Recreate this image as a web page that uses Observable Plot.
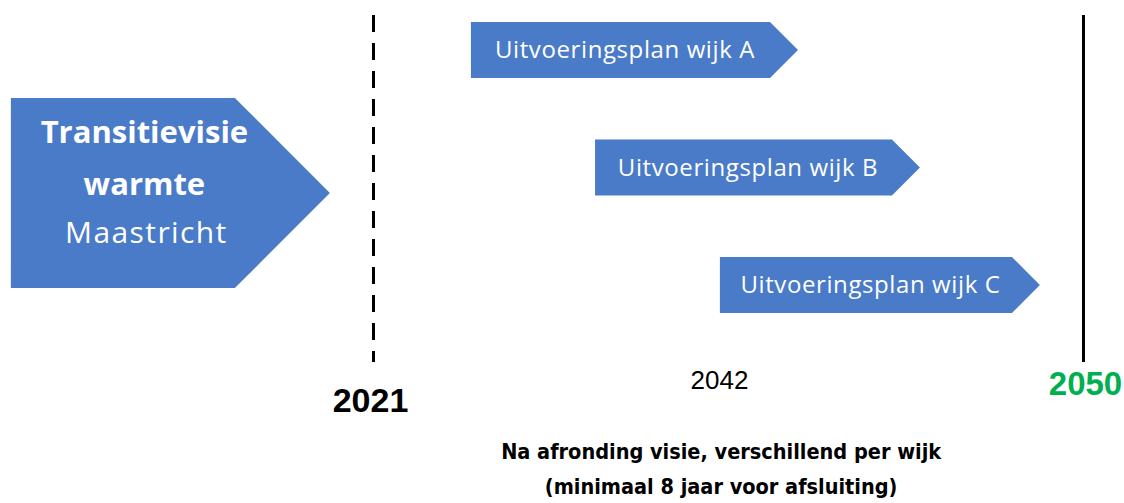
<!DOCTYPE html>
<html>
<head>
<meta charset="utf-8">
<script src="https://cdn.jsdelivr.net/npm/d3@7"></script>
<script src="https://cdn.jsdelivr.net/npm/@observablehq/plot@0.6"></script>
<style>
  html, body { margin: 0; padding: 0; background: #fff; }
  #chart svg { display: block; }
  .plan-label text { letter-spacing: 0.6px; }
  .visie-plain text { letter-spacing: 1.4px; }
</style>
</head>
<body>
<div id="chart"></div>
<script>
// ---- Data ----
const planNames  = ["Uitvoeringsplan wijk A", "Uitvoeringsplan wijk B", "Uitvoeringsplan wijk C"];
const planStart  = [2025.0, 2030.07, 2035.17];
const planEnd    = [2038.36, 2043.34, 2048.24];
const planRow    = [1, 2, 3];

const visieBoldLines = ["Transitievisie", "warmte"];
const visiePlainLines = ["Maastricht"];
const visieStart = 2006.21;
const visieEnd   = 2019.24;

const startYear  = 2021;
const endYear    = 2050;
const midLabel   = "2042";
const captionLines = ["Na afronding visie, verschillend per wijk", "(minimaal 8 jaar voor afsluiting)"];

// ---- Layout ----
const W = 1124, H = 503;
const xDomain = [2005.765, 2051.675];
const yDomain = [0.5745, 4.8553];
const pxPerYear = W / (xDomain[1] - xDomain[0]);
const pxPerRow = H / (yDomain[1] - yDomain[0]);
const blue = "#4a7bc8";

const planH = 0.4766;          // arrow height in rows
const visieRow = 2.217, visieH = 1.617;

function arrowPoints(name, x0, x1, cy, h) {
  const tip = (h / 2) * pxPerRow / pxPerYear; // 45° point
  const xb = x1 - tip;
  return [
    {name, x: x0, y1: cy + h / 2, y2: cy - h / 2},
    {name, x: xb, y1: cy + h / 2, y2: cy - h / 2},
    {name, x: x1, y1: cy, y2: cy}
  ];
}

const arrows = [
  ...arrowPoints("visie", visieStart, visieEnd, visieRow, visieH),
  ...planNames.flatMap((n, i) => arrowPoints(n, planStart[i], planEnd[i], planRow[i], planH))
];

const planTip = (planH / 2) * pxPerRow / pxPerYear;
const planLabels = planNames.map((n, i) => ({name: n, x: (planStart[i] + planEnd[i] - planTip) / 2, y: planRow[i]}));
const visieTip = (visieH / 2) * pxPerRow / pxPerYear;
const visieX = (visieStart + visieEnd - visieTip) / 2;

const chart = Plot.plot({
  width: W,
  height: H,
  margin: 0,
  x: {domain: xDomain, range: [0, W], axis: null},
  y: {domain: yDomain, range: [0, H], axis: null},
  style: {background: "#fff"},
  marks: [
    Plot.areaY(arrows, {x: "x", y1: "y1", y2: "y2", z: "name", fill: blue, curve: "linear"}),
    Plot.text(planLabels, {x: "x", y: "y", text: "name", dx: 4, fill: "#fff", className: "plan-label",
      fontFamily: "Open Sans", fontSize: 24, textAnchor: "middle"}),
    Plot.text([visieBoldLines[0]], {x: () => visieX, y: () => visieRow, text: d => d,
      dx: 21, dy: -60, fill: "#fff", fontFamily: "Open Sans", fontWeight: "bold", fontSize: 31}),
    Plot.text([visieBoldLines[1]], {x: () => visieX, y: () => visieRow, text: d => d,
      dx: 21, dy: -8, fill: "#fff", fontFamily: "Open Sans", fontWeight: "bold", fontSize: 31}),
    Plot.text(visiePlainLines, {x: () => visieX, y: () => visieRow, text: d => d, className: "visie-plain",
      dx: 23, dy: 40, fill: "#fff", fontFamily: "Open Sans", fontSize: 30}),
    Plot.ruleX([startYear], {y1: 0.702, y2: 3.655, stroke: "#000", strokeWidth: 3, strokeDasharray: "17,11"}),
    Plot.ruleX([endYear], {y1: 0.702, y2: 3.655, stroke: "#000", strokeWidth: 3}),
    Plot.text([String(startYear)], {x: () => startYear, y: () => 3.987, text: d => d, dx: -3,
      fontFamily: "Liberation Sans", fontWeight: "bold", fontSize: 34, fill: "#000"}),
    Plot.text([midLabel], {x: () => 2035.13, y: () => 3.809, text: d => d,
      fontFamily: "Liberation Sans", fontSize: 26, fill: "#000"}),
    Plot.text([String(endYear)], {x: () => endYear, y: () => 3.843, text: d => d, dx: 2,
      fontFamily: "Liberation Sans", fontWeight: "bold", fontSize: 33, fill: "#00b050"}),
    Plot.text([captionLines.join("\n")], {x: () => 2035.2, y: () => 4.57, text: d => d, dy: -5,
      lineHeight: 1.62, fontFamily: "DejaVu Sans Condensed", fontWeight: "bold", fontSize: 21.5, fill: "#000"})
  ]
});

document.getElementById("chart").appendChild(chart);
</script>
</body>
</html>
